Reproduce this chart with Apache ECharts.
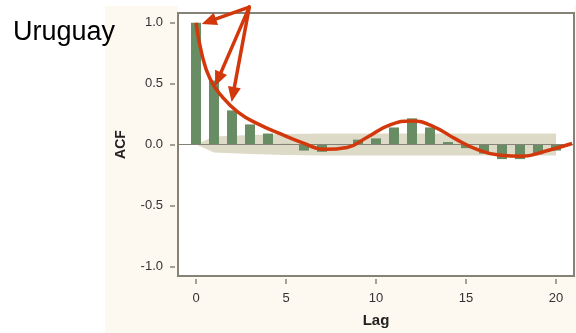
<!DOCTYPE html>
<html>
<head>
<meta charset="utf-8">
<script src="https://cdn.jsdelivr.net/npm/echarts@6/dist/echarts.min.js"></script>
<style>
  html, body { margin: 0; padding: 0; background: #ffffff; }
  #chart { width: 576px; height: 333px; }
</style>
</head>
<body>
<div id="chart"></div>
<script>
// Autocorrelation function of the Uruguay series, lags 0..20
const lags = [0, 1, 2, 3, 4, 5, 6, 7, 8, 9, 10, 11, 12, 13, 14, 15, 16, 17, 18, 19, 20];
const acf = [1.0, 0.525, 0.28, 0.165, 0.09, 0.005, -0.05, -0.06, -0.005, 0.04, 0.05,
             0.14, 0.215, 0.14, 0.02, -0.03, -0.075, -0.12, -0.12, -0.08, -0.05];

// Two-standard-error confidence band around zero
const bandUpper = [0, 0.065, 0.072, 0.078, 0.083, 0.087, 0.089, 0.09, 0.09, 0.09, 0.09,
                   0.09, 0.09, 0.09, 0.09, 0.09, 0.09, 0.09, 0.09, 0.09, 0.09];
const bandLower = bandUpper.map(v => -v);

// Hand-drawn trend curve through the correlogram
const curveLags = [0, 0.33, 0.78, 1.44, 2.33, 3.44, 4.67, 5.89, 7.17, 8.39,
                   9.56, 10.78, 12.0, 13.22, 14.39, 15.61, 16.89, 18.11, 19.39, 20.89];
const curveVals = [1.0, 0.74, 0.54, 0.395, 0.266, 0.169, 0.089, 0.016, -0.04, -0.024,
                   0.064, 0.161, 0.193, 0.145, 0.048, -0.04, -0.089, -0.097, -0.056, 0.008];

// Arrows pointing at the first lags: shared origin and the three tips
const arrowOrigin = [2.96, 1.128];
const arrowTips = [[0.32, 0.99], [1.06, 0.48], [1.98, 0.35]];

const xTicks = [0, 5, 10, 15, 20];
const yTicks = [-1, -0.5, 0, 0.5, 1];

const RED = '#d2380c';
const AXIS = '#878277';
const FONT = 'Liberation Sans, Arial, sans-serif';

const chart = echarts.init(document.getElementById('chart'));

const option = {
  animation: false,
  title: {
    text: 'Uruguay',
    left: 8,
    top: 14,
    textStyle: { fontFamily: FONT, fontSize: 27, fontWeight: 'normal', color: '#000' }
  },
  grid: {
    left: 178, top: 13, right: 2, bottom: 52,
    show: true, backgroundColor: '#ffffff', borderColor: AXIS, borderWidth: 2
  },
  xAxis: {
    type: 'value', min: -1, max: 21, offset: 3,
    name: 'Lag', nameLocation: 'middle', nameGap: 34,
    nameTextStyle: { fontFamily: FONT, fontSize: 15, fontWeight: 'bold', color: '#222' },
    axisLine: { show: false, onZero: false },
    axisTick: { show: true, length: 5, customValues: xTicks, lineStyle: { color: AXIS, width: 1.5 } },
    axisLabel: { customValues: xTicks, margin: 13, fontFamily: FONT, fontSize: 13, color: '#333' },
    splitLine: { show: false }
  },
  yAxis: {
    type: 'value', min: -1.08, max: 1.08, offset: 3,
    name: 'ACF', nameLocation: 'middle', nameGap: 47, nameRotate: 90,
    nameTextStyle: { fontFamily: FONT, fontSize: 14, fontWeight: 'bold', color: '#222' },
    axisLine: { show: false, onZero: false },
    axisTick: { show: true, length: 5, customValues: yTicks, lineStyle: { color: AXIS, width: 1.5 } },
    axisLabel: { customValues: yTicks, margin: 12, formatter: v => v.toFixed(1),
                 fontFamily: FONT, fontSize: 13, color: '#333' },
    splitLine: { show: false }
  },
  graphic: [
    { type: 'rect', z: -10, shape: { x: 105, y: 6, width: 471, height: 327 }, style: { fill: '#fdf9f1' }, silent: true },
    { type: 'rect', z: -9, shape: { x: 178, y: 6, width: 396, height: 8 }, style: { fill: '#ffffff' }, silent: true }
  ],
  series: [
    {
      type: 'custom',
      silent: true,
      z: 1,
      data: lags.map((x, i) => [x, bandLower[i], bandUpper[i]]),
      renderItem: function (params, api) {
        if (params.dataIndex !== 0) return null;
        const top = lags.map((x, i) => api.coord([x, bandUpper[i]]));
        const bottom = lags.map((x, i) => api.coord([x, bandLower[i]])).reverse();
        return {
          type: 'polygon',
          shape: { points: top.concat(bottom) },
          style: { fill: '#dddac7' }
        };
      },
      encode: { x: 0, y: [1, 2] }
    },
    {
      type: 'bar',
      z: 2,
      barWidth: 10,
      data: lags.map((x, i) => [x, acf[i]]),
      itemStyle: { color: '#688d64' },
      silent: true,
      markLine: {
        silent: true,
        symbol: 'none',
        label: { show: false },
        lineStyle: { color: AXIS, width: 1, type: 'solid' },
        data: [{ yAxis: 0 }]
      }
    },
    {
      type: 'line',
      z: 5,
      smooth: 0.5,
      symbol: 'none',
      silent: true,
      data: curveLags.map((x, i) => [x, curveVals[i]]),
      lineStyle: { color: RED, width: 3.5 }
    }
  ]
};

chart.setOption(option);

// Arrows are drawn in pixel space from their data-space anchors
function drawArrows() {
  const o = chart.convertToPixel({ gridIndex: 0 }, arrowOrigin);
  const els = [];
  arrowTips.forEach(tip => {
    const t = chart.convertToPixel({ gridIndex: 0 }, tip);
    const dx = t[0] - o[0], dy = t[1] - o[1];
    const len = Math.sqrt(dx * dx + dy * dy);
    const ux = dx / len, uy = dy / len;
    const headLen = 15, headHalf = 6.5;
    const bx = t[0] - ux * headLen, by = t[1] - uy * headLen;
    els.push({
      type: 'line', z: 100, silent: true,
      shape: { x1: o[0], y1: o[1], x2: bx + ux * 2, y2: by + uy * 2 },
      style: { stroke: RED, lineWidth: 3.5, lineCap: 'round' }
    });
    els.push({
      type: 'polygon', z: 101, silent: true,
      shape: { points: [[t[0], t[1]], [bx - uy * headHalf, by + ux * headHalf], [bx + uy * headHalf, by - ux * headHalf]] },
      style: { fill: RED }
    });
  });
  chart.setOption({ graphic: option.graphic.concat(els) }, { replaceMerge: ['graphic'] });
}
drawArrows();
</script>
</body>
</html>
